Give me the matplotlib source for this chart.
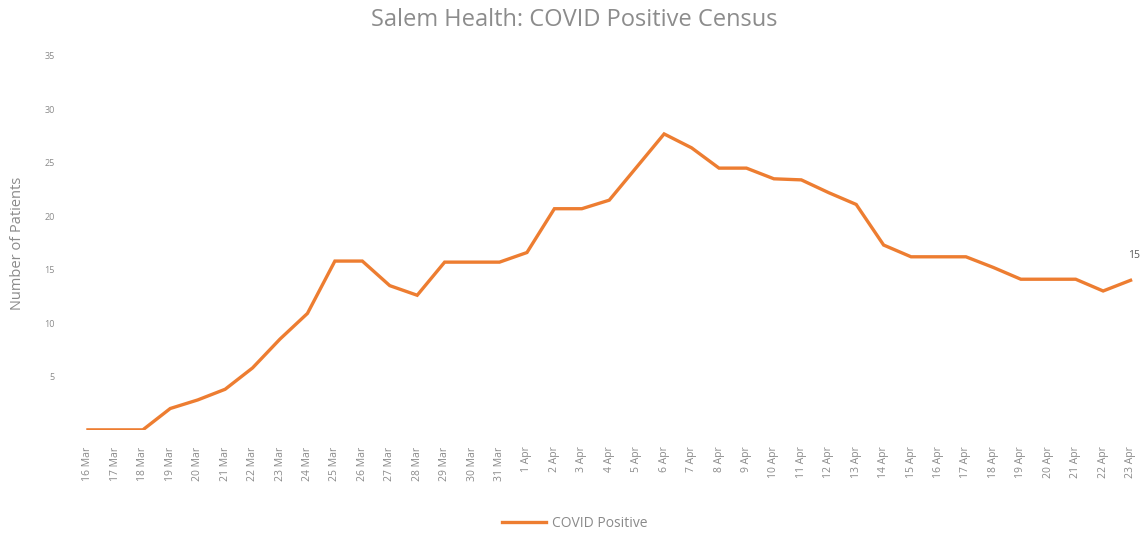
import matplotlib
matplotlib.use("Agg")
import matplotlib.pyplot as plt

dates = ["16 Mar", "17 Mar", "18 Mar", "19 Mar", "20 Mar", "21 Mar", "22 Mar", "23 Mar",
         "24 Mar", "25 Mar", "26 Mar", "27 Mar", "28 Mar", "29 Mar", "30 Mar", "31 Mar",
         "1 Apr", "2 Apr", "3 Apr", "4 Apr", "5 Apr", "6 Apr", "7 Apr", "8 Apr", "9 Apr",
         "10 Apr", "11 Apr", "12 Apr", "13 Apr", "14 Apr", "15 Apr", "16 Apr", "17 Apr",
         "18 Apr", "19 Apr", "20 Apr", "21 Apr", "22 Apr", "23 Apr"]
covid_positive = [0, 0, 0, 2, 2.8, 3.8, 5.8, 8.5, 10.9, 15.8, 15.8, 13.5, 12.6, 15.7, 15.7,
                  15.7, 16.6, 20.7, 20.7, 21.5, 24.6, 27.7, 26.4, 24.5, 24.5, 23.5, 23.4,
                  22.2, 21.1, 17.3, 16.2, 16.2, 16.2, 15.2, 14.1, 14.1, 14.1, 13.0, 14.0]
y_ticks = [5, 10, 15, 20, 25, 30, 35]
end_label = "15"

plt.rcParams['font.family'] = ['Open Sans', 'DejaVu Sans']
fig = plt.figure(figsize=(11.42, 5.38), dpi=100)
ax = fig.add_axes([0.065, 0.201, 0.937, 0.695])

x = list(range(len(dates)))
ax.plot(x, covid_positive, color="#ED7D31", linewidth=2.4, solid_joinstyle="miter",
        label="COVID Positive")
ax.annotate(end_label, (x[-1], covid_positive[-1]), xytext=(-2, 16),
            textcoords="offset points", fontsize=7.5, color="#595959")

ax.set_xlim(-0.5, len(dates) - 0.5)
ax.set_ylim(0, 35)
ax.set_yticks(y_ticks)
ax.set_yticklabels([str(v) for v in y_ticks], fontsize=6.5, color="#8a8a8a")
ax.set_xticks(x)
ax.set_xticklabels(dates, rotation=90, fontsize=7.5, color="#8a8a8a")
ax.tick_params(axis="y", length=0, pad=14)
ax.tick_params(axis="x", length=0, pad=12)
for s in ax.spines.values():
    s.set_visible(False)

ax.set_ylabel("Number of Patients", fontsize=10.5, color="#8a8a8a", labelpad=14)
fig.suptitle("Salem Health: COVID Positive Census", x=0.503, y=0.985,
             fontsize=17, color="#8c8c8c")
leg = fig.legend(loc="lower center", bbox_to_anchor=(0.503, -0.01), frameon=False,
                 fontsize=10, handlelength=3.2, handletextpad=0.4)
for t in leg.get_texts():
    t.set_color("#8a8a8a")

fig.savefig("out.png", dpi=100)
